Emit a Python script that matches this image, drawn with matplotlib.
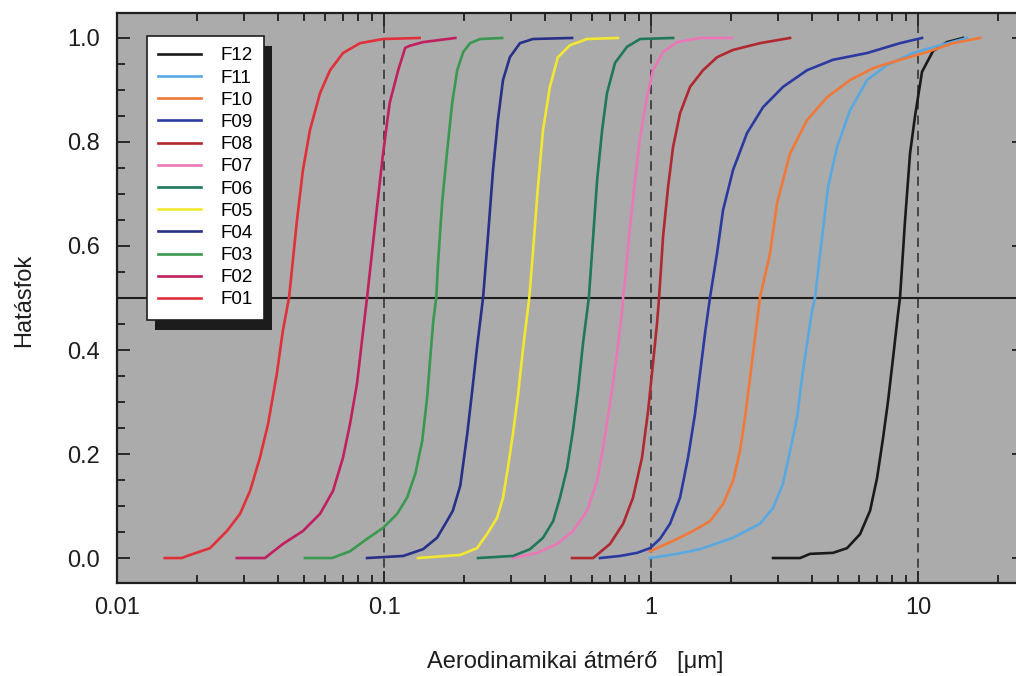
import numpy as np
import matplotlib
matplotlib.use('Agg')
import matplotlib.pyplot as plt
from matplotlib.patches import Rectangle
from matplotlib.ticker import MultipleLocator, NullFormatter, LogLocator

plt.rcParams['font.family'] = ['Liberation Sans', 'DejaVu Sans']

# aerodynamic diameter [um] and efficiency
f01_d = [0.0151, 0.0175, 0.0183, 0.0223, 0.0258, 0.0289, 0.0315, 0.0343, 0.0368, 0.0397,
         0.0418, 0.0441, 0.0472, 0.0497, 0.0528, 0.0576, 0.0628, 0.0702, 0.0813, 0.0992, 0.136]
f01_e = [0, 0, 0.004, 0.019, 0.052, 0.085, 0.129, 0.193, 0.258, 0.355,
         0.437, 0.501, 0.649, 0.746, 0.823, 0.894, 0.938, 0.971, 0.990, 0.998, 1.0]

f02_d = [0.0281, 0.0358, 0.0418, 0.0497, 0.0576, 0.0644, 0.0702, 0.0746, 0.0792, 0.0827,
         0.0864, 0.0941, 0.0992, 0.105, 0.113, 0.120, 0.125, 0.140, 0.185]
f02_e = [0, 0, 0.027, 0.052, 0.085, 0.129, 0.193, 0.258, 0.335, 0.418,
         0.501, 0.674, 0.778, 0.875, 0.938, 0.981, 0.985, 0.992, 1.0]

f03_d = [0.0506, 0.0639, 0.0746, 0.0864, 0.0992, 0.112, 0.122, 0.131, 0.139, 0.145,
         0.149, 0.153, 0.157, 0.159, 0.165, 0.172, 0.180, 0.188, 0.198, 0.210, 0.229, 0.277]
f03_e = [0, 0, 0.013, 0.037, 0.058, 0.085, 0.116, 0.162, 0.225, 0.308,
         0.385, 0.457, 0.501, 0.560, 0.682, 0.778, 0.875, 0.938, 0.973, 0.990, 0.998, 1.0]

f04_d = [0.0864, 0.118, 0.140, 0.158, 0.172, 0.181, 0.193, 0.205, 0.214, 0.223,
         0.235, 0.245, 0.256, 0.267, 0.279, 0.296, 0.323, 0.361, 0.506]
f04_e = [0, 0.004, 0.017, 0.039, 0.071, 0.091, 0.139, 0.239, 0.322, 0.405,
         0.501, 0.617, 0.746, 0.842, 0.919, 0.963, 0.990, 0.998, 1.0]

f05_d = [0.134, 0.193, 0.223, 0.243, 0.265, 0.279, 0.291, 0.304, 0.318, 0.332,
         0.350, 0.361, 0.377, 0.394, 0.418, 0.448, 0.497, 0.576, 0.752]
f05_e = [0, 0.006, 0.019, 0.046, 0.077, 0.116, 0.173, 0.239, 0.316, 0.405,
         0.501, 0.586, 0.713, 0.823, 0.906, 0.963, 0.986, 0.998, 1.0]

f06_d = [0.225, 0.304, 0.352, 0.394, 0.430, 0.456, 0.485, 0.510, 0.533, 0.556,
         0.585, 0.607, 0.628, 0.656, 0.684, 0.733, 0.813, 0.910, 1.21]
f06_e = [0, 0.004, 0.017, 0.039, 0.071, 0.116, 0.173, 0.245, 0.322, 0.412,
         0.501, 0.617, 0.726, 0.823, 0.894, 0.952, 0.983, 0.998, 1.0]

f07_d = [0.304, 0.374, 0.445, 0.510, 0.576, 0.628, 0.661, 0.702, 0.746, 0.779,
         0.786, 0.799, 0.834, 0.871, 0.910, 0.966, 1.017, 1.109, 1.251, 1.526, 2.011]
f07_e = [0, 0.010, 0.027, 0.052, 0.091, 0.148, 0.212, 0.297, 0.393, 0.476,
         0.501, 0.534, 0.636, 0.726, 0.809, 0.886, 0.938, 0.973, 0.992, 1.0, 1.0]

f08_d = [0.506, 0.607, 0.702, 0.786, 0.856, 0.925, 0.975, 1.017, 1.053, 1.072,
         1.109, 1.158, 1.209, 1.284, 1.400, 1.566, 1.767, 2.028, 2.559, 3.316]
f08_e = [0, 0, 0.027, 0.066, 0.116, 0.193, 0.283, 0.374, 0.451, 0.501,
         0.617, 0.713, 0.790, 0.855, 0.906, 0.938, 0.963, 0.977, 0.990, 1.0]

f09_d = [0.644, 0.766, 0.887, 0.991, 1.081, 1.178, 1.284, 1.376, 1.461, 1.526,
         1.593, 1.663, 1.767, 1.861, 2.028, 2.288, 2.628, 3.122, 3.840, 4.804,
         6.442, 8.561, 10.35]
f09_e = [0, 0.004, 0.010, 0.019, 0.037, 0.066, 0.116, 0.193, 0.277, 0.355,
         0.432, 0.501, 0.586, 0.669, 0.746, 0.817, 0.867, 0.906, 0.938, 0.958,
         0.971, 0.990, 1.0]

f10_d = [0.99, 1.209, 1.437, 1.663, 1.861, 2.028, 2.154, 2.249, 2.349, 2.452,
         2.559, 2.791, 2.964, 3.316, 3.840, 4.562, 5.563, 6.784, 8.561, 10.81, 13.52, 17.07]
f10_e = [0.013, 0.033, 0.052, 0.071, 0.104, 0.148, 0.206, 0.270, 0.347, 0.424,
         0.501, 0.586, 0.682, 0.778, 0.842, 0.886, 0.919, 0.942, 0.958, 0.973, 0.990, 1.0]

f11_d = [0.99, 1.251, 1.526, 2.028, 2.559, 2.864, 3.122, 3.316, 3.522, 3.677,
         3.840, 4.009, 4.114, 4.184, 4.369, 4.601, 4.972, 5.563, 6.442, 7.655,
         9.578, 12.09, 15.26]
f11_e = [0, 0.008, 0.017, 0.039, 0.066, 0.096, 0.143, 0.206, 0.270, 0.347,
         0.412, 0.476, 0.501, 0.534, 0.617, 0.713, 0.790, 0.861, 0.919, 0.948,
         0.971, 0.986, 1.0]

f12_d = [2.864, 3.614, 3.940, 4.804, 5.421, 6.064, 6.612, 7.023, 7.396, 7.722,
         8.062, 8.416, 8.561, 8.939, 9.333, 9.745, 10.35, 11.38, 12.84, 14.74]
f12_e = [0, 0, 0.008, 0.010, 0.019, 0.046, 0.091, 0.154, 0.231, 0.302,
         0.385, 0.470, 0.501, 0.649, 0.778, 0.850, 0.935, 0.975, 0.992, 1.0]

names = ['F01', 'F02', 'F03', 'F04', 'F05', 'F06', 'F07', 'F08', 'F09', 'F10', 'F11', 'F12']
diam = [f01_d, f02_d, f03_d, f04_d, f05_d, f06_d, f07_d, f08_d, f09_d, f10_d, f11_d, f12_d]
eff = [f01_e, f02_e, f03_e, f04_e, f05_e, f06_e, f07_e, f08_e, f09_e, f10_e, f11_e, f12_e]
colors = ['#e0303a', '#c0205e', '#3a9850', '#283088', '#f2e830', '#207858',
          '#ea78b6', '#b02830', '#2a3aa0', '#f07838', '#5aa8e0', '#1a1a1a']

x_ticks = [0.01, 0.1, 1, 10]
x_labels = ['0.01', '0.1', '1', '10']
y_ticks = [0.0, 0.2, 0.4, 0.6, 0.8, 1.0]
y_labels = ['0.0', '0.2', '0.4', '0.6', '0.8', '1.0']

W, H = 1016, 676
fig = plt.figure(figsize=(W / 100, H / 100), dpi=100)
# right spine lies just past the image edge, as in the scan
ax = fig.add_axes([117 / W, 93 / H, 907.3 / W, 570 / H])
ax.set_facecolor('#ababac')

ax.set_xscale('log')
ax.set_xlim(0.01, 25)
ax.set_ylim(-0.048, 1.048)

lines = {}
for name, d, e, c in list(zip(names, diam, eff, colors))[::-1]:
    lines[name], = ax.plot(d, e, color=c, lw=1.9, solid_joinstyle='round', zorder=3)

ax.axhline(0.5, color='#1e1e1e', lw=1.5, zorder=2)
for v in x_ticks[1:]:
    ax.axvline(v, color='#2a2a2a', lw=1.1, ls=(0, (6, 4)), zorder=2)

ax.set_xticks(x_ticks, labels=x_labels)
ax.xaxis.set_minor_locator(LogLocator(base=10, subs=np.arange(2, 10)))
ax.xaxis.set_minor_formatter(NullFormatter())
ax.set_yticks(y_ticks, labels=y_labels)
ax.yaxis.set_minor_locator(MultipleLocator(0.05))

ax.tick_params(which='both', direction='in', top=True, right=True,
               color='#1e1e1e', width=1.3, labelsize=17, labelcolor='#1e1e1e')
ax.tick_params(which='major', length=9)
ax.tick_params(which='minor', length=6)
ax.tick_params(axis='y', pad=12)
ax.tick_params(axis='x', pad=10)
for s in ax.spines.values():
    s.set_linewidth(1.6)
    s.set_color('#1e1e1e')

fig.text(24 / W, 1 - 300 / H, 'Hatásfok', rotation=90, ha='center', va='center',
         fontsize=17, color='#1e1e1e')
fig.text(575 / W, 1 - 662 / H, 'Aerodinamikai átmérő   [\u03bcm]', ha='center', va='center',
         fontsize=17, color='#1e1e1e')

leg = ax.legend([lines[n] for n in names[::-1]], names[::-1],
                loc='upper left', bbox_to_anchor=(147 / W, 1 - 36 / H),
                bbox_transform=fig.transFigure, fontsize=13.5, frameon=True,
                fancybox=False, framealpha=1, facecolor='white', edgecolor='#1e1e1e',
                borderaxespad=0, borderpad=0.6, labelspacing=0.27,
                handlelength=2.3, handletextpad=1.0)
leg.get_frame().set_linewidth(1.2)
leg.set_zorder(6)

fig.canvas.draw()
bb = leg.get_window_extent()
shadow = Rectangle(((bb.x0 + 8) / W, (bb.y0 - 10) / H), bb.width / W, bb.height / H,
                   transform=fig.transFigure, facecolor='#1c1c1c', edgecolor='none',
                   zorder=5.5, clip_on=False)
ax.add_patch(shadow)

fig.savefig('out.png', dpi=100, facecolor='white')
